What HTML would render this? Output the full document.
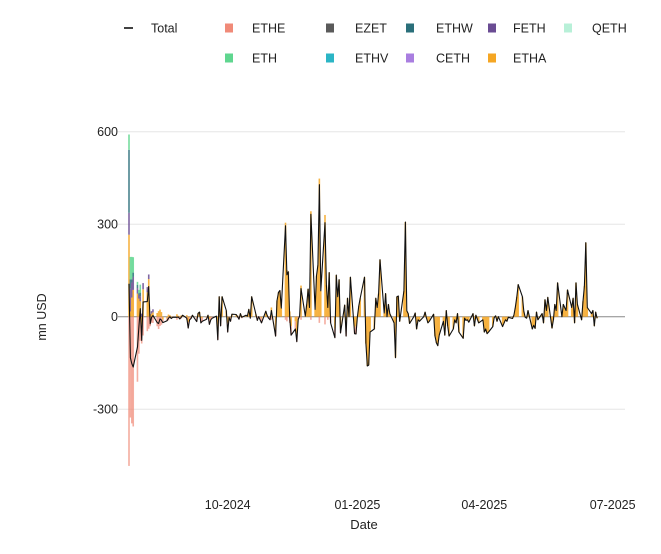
<!DOCTYPE html>
<html><head><meta charset="utf-8">
<style>
body{margin:0;background:#fff;font-family:"Liberation Sans",sans-serif;}
svg text{font-family:"Liberation Sans",sans-serif;fill:#222;}
</style></head>
<body>
<svg id="chart" width="661" height="549" viewBox="0 0 661 549" xmlns="http://www.w3.org/2000/svg">
<g id="legend" font-size="12.5"></g>
<g id="grid"></g>
<g id="bars"></g>
<g id="line"></g>
<g id="axes" font-size="12.5"></g>
<text x="46" y="317" font-size="12.5" text-anchor="middle" transform="rotate(-90 46 317)">mn USD</text>
<text x="364" y="529" font-size="13" text-anchor="middle">Date</text>
</svg>
<script>
// daily totals (mn USD) per trading day, starting 2024-07-23
const totals = [
107,-133,-152,-163,-98,-33,26,
-77,48,49,98,-23,-2,4,-19,-22,-7,-11,-19,-13,-5,0,-6,-2,-2,-1,-7,-2,5,
-5,-37,-10,-6,5,-16,11,15,-20,-15,-8,5,-25,-10,-5,2,-75,65,-30,65,20,
-50,-3,-15,8,7,0,-8,10,-2,5,2,24,-5,65,8,-12,0,-10,-20,18,4,-5,-10,
20,-63,52,79,85,28,295,136,146,-3,-60,-40,-81,-9,2,91,2,40,90,30,332,
24,133,167,428,84,305,102,30,143,-20,-68,135,65,120,-53,38,-63,60,0,128,-55,-56,
0,35,60,128,-87,-160,-157,-50,-40,60,30,75,185,12,75,0,40,10,-20,-133,65,67,-15,
83,307,19,10,-22,0,12,-40,-10,-15,0,15,-5,-20,-15,8,-63,-85,-94,-60,
-15,-60,20,-30,-63,-40,-10,-20,10,-50,-70,-5,-12,-10,-18,10,-30,5,-8,-20,-10,
-50,-40,-55,-50,-32,-3,3,-15,0,-32,-20,-10,-15,-2,-6,5,30,64,104,65,18,-2,
-5,20,-40,-28,-38,15,-10,10,-20,55,20,63,-37,-10,40,20,110,0,40,30,20,87,
30,60,-20,110,40,-10,50,100,240,30,10,20,-30,15,-5
];
const etheFlows = [
-484,-327,-346,-356,-211,-120,-78,
-62,-61,-47,-39,-31,-20,-20,-31,-40,-30,-26,-10,-8,-12,-5,-4,-3,-10,-4,-8,-6,0,
-10,-20,-8,-6,0,-14,0,0,-15,-12,-6,0,-18,-8,-5,0,-30,0,-20,0,0,
-30,-3,-12,0,0,-4,-8,0,-5,0,0,0,-5,0,0,-12,0,-10,-15,0,0,-5,-8,
-10,-20,0,0,0,0,-10,-15,0,-20,-30,-25,-20,-9,0,-10,0,0,0,0,-10,
0,0,0,-20,0,-25,0,-10,0,-20,-30,0,0,0,-20,0,-40,0,0,0,-20,-25
];
const fethFlows = [71,74,49,42,18,12,16,10,20,17,15,4,8,10];
const ethwFlows = [204,30,10,14,10,5,12];
const ethMiniFlows = [50,73,73,50,10,11,26];
const yTicks = [600,300,0,-300];
const xTickLabels = ["10-2024","01-2025","04-2025","07-2025"];
const xTickDates = ["2024-10-01","2025-01-01","2025-04-01","2025-07-01"];

const NS="http://www.w3.org/2000/svg";
const X0=118,X1=625;
const t0=Date.UTC(2024,6,23);
function dayNum(s){const p=s.split('-');return (Date.UTC(+p[0],+p[1]-1,+p[2])-t0)/864e5;}
function xScale(d){return 129+d*1.41;}
function yScale(v){return 316.7-v*0.3083;}
function mk(tag,attrs,parent){const e=document.createElementNS(NS,tag);for(const k in attrs)e.setAttribute(k,attrs[k]);parent.appendChild(e);return e;}

// trading dates (weekdays)
const dates=[];let d=0;
while(dates.length<totals.length){const wd=new Date(t0+d*864e5).getUTCDay();if(wd!==0&&wd!==6)dates.push(d);d++;}

// grid + axes
const grid=document.getElementById('grid'),axes=document.getElementById('axes');
yTicks.forEach(v=>{
  const g=mk('line',{x1:X0,x2:X1,y1:yScale(v),y2:yScale(v),stroke:v===0?'#888':'#e6e6e6','stroke-width':1},grid);
  
  
  const t=mk('text',{x:118,y:yScale(v)+4.5,'text-anchor':'end'},axes);
  
  
  t.textContent=v;
});
xTickLabels.forEach((lab,i)=>{
  const t=mk('text',{x:xScale(dayNum(xTickDates[i])),y:509,'text-anchor':'middle'},axes);
  
  
  t.textContent=lab;
});

// bars
const colors={ETHE:'#f08a78',FETH:'#6a4c93',ETHW:'#2a6f7a',ETH:'#5fd68f',ETHA:'#f5a623'};
const bars=document.getElementById('bars');
totals.forEach((tot,i)=>{
  const ethe=etheFlows[i]||0,feth=fethFlows[i]||0,ethw=ethwFlows[i]||0,em=ethMiniFlows[i]||0;
  const etha=tot-ethe-feth-ethw-em;
  const comps=[['ETHA',etha],['ETHE',ethe],['FETH',feth],['ETHW',ethw],['ETH',em]];
  let pos=0,neg=0;const x=xScale(dates[i]);
  comps.forEach(([k,v])=>{
    if(!v)return;
    let a,b;
    if(v>0){a=pos;b=pos+v;pos=b;}else{a=neg;b=neg+v;neg=b;}
    const y1=yScale(Math.max(a,b)),y2=yScale(Math.min(a,b));
    const r=mk('rect',{x:x-0.8,y:y1,width:1.6,height:Math.max(0.3,y2-y1),fill:colors[k],opacity:k==='ETHE'?0.7:0.85},bars);
    
    
  });
});

// total line
const pts=totals.map((v,i)=>xScale(dates[i]).toFixed(1)+','+yScale(v).toFixed(1)).join(' ');
const pl=mk('polyline',{points:pts,fill:'none',stroke:'#111','stroke-width':1.1,'stroke-linejoin':'round'},document.getElementById('line'));



// legend
const leg=document.getElementById('legend');
const l0=mk('line',{x1:124,x2:133,y1:28,y2:28,stroke:'#111','stroke-width':1.6},leg);


const lt=mk('text',{x:151,y:32.5},leg);


lt.textContent='Total';
const legendNames=['ETHE','EZET','ETHW','FETH','QETH','ETH','ETHV','CETH','ETHA'];
const legendColors=['#f08a78','#5a5a5a','#2a6f7a','#6a4c93','#b8f0d8','#5fd68f','#2bb5c5','#a97ee0','#f5a623'];
const colX=[229,330,410,492,568],textX=[252,355,436,513,592];
legendNames.forEach((n,i)=>{
  const row=i<5?0:1,col=i<5?i:i-5,cy=row?58:28;
  const s=mk('rect',{x:colX[col]-4,y:cy-4.5,width:8,height:9,fill:legendColors[i]},leg);
  
  
  const t=mk('text',{x:textX[col],y:cy+4.5},leg);
  
  
  t.textContent=n;
});
</script>
</body></html>
